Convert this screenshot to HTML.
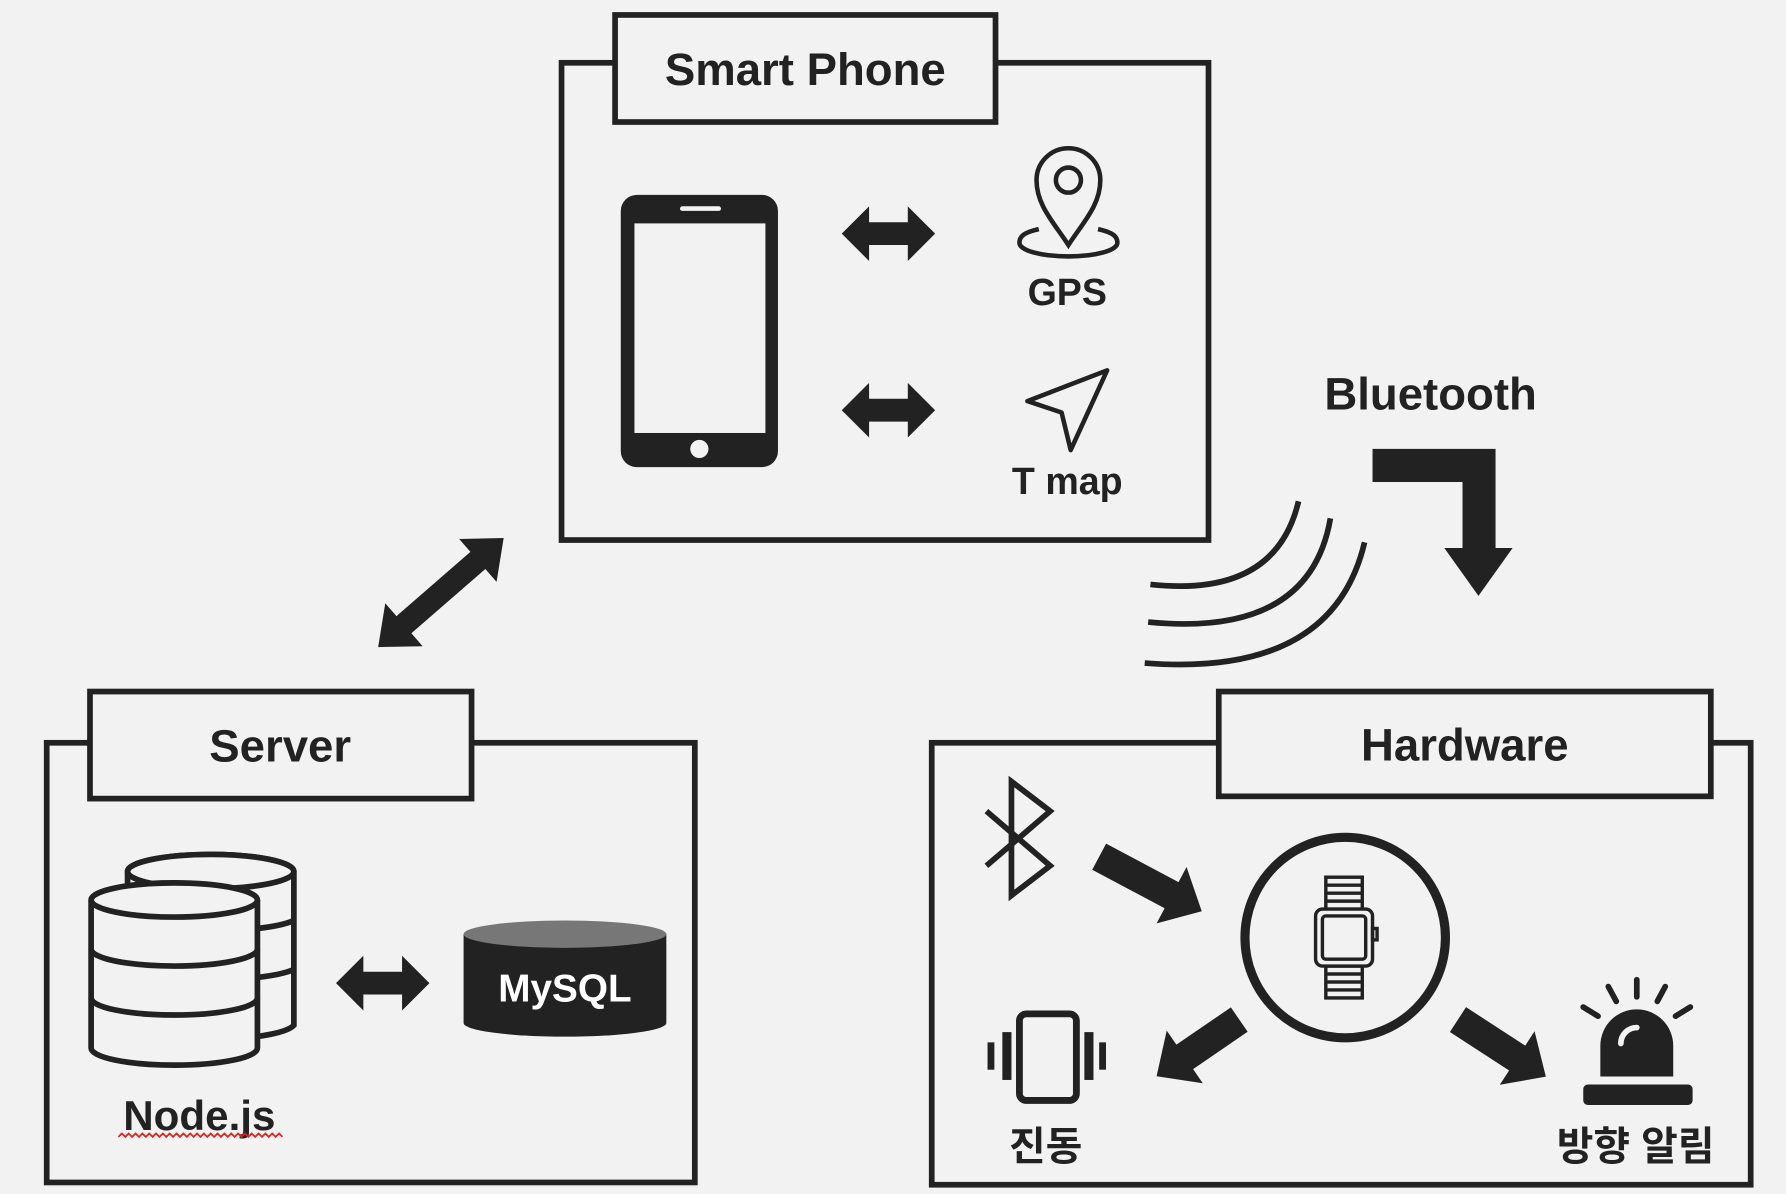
<!DOCTYPE html>
<html><head><meta charset="utf-8"><style>
html,body{margin:0;padding:0;background:#f2f2f2;}
svg{display:block}
text{font-family:"Liberation Sans","Noto Sans CJK KR",sans-serif;font-weight:bold;fill:#222;text-anchor:middle;dominant-baseline:middle}
</style></head><body>
<svg width="1786" height="1194" viewBox="0 0 1568 1048" xmlns="http://www.w3.org/2000/svg">
<rect width="1568" height="1048" fill="#f2f2f2"/>
<g fill="none" stroke="#222" stroke-width="5">
<rect x="493" y="55" width="568" height="419"/>
<rect x="41" y="652" width="569" height="386"/>
<rect x="818" y="652" width="719" height="388"/>
</g>
<g fill="#f2f2f2" stroke="#222" stroke-width="5">
<rect x="540" y="13" width="334" height="94"/>
<rect x="79" y="607" width="335" height="94"/>
<rect x="1070" y="607" width="432" height="92"/>
</g>
<text x="707" y="64" font-size="40">Smart Phone</text>
<text x="246" y="658" font-size="40">Server</text>
<text x="1286" y="657" font-size="40">Hardware</text>

<rect x="545" y="171" width="138" height="239" rx="14" fill="#222"/>
<rect x="557" y="196" width="115" height="184" fill="#f2f2f2"/>
<rect x="597" y="181" width="36" height="4" rx="2" fill="#f2f2f2"/>
<circle cx="614" cy="394" r="8" fill="#f2f2f2"/>

<g fill="#222">
<polygon transform="translate(739,205)" points="0,0 24,-24 24,-10 58,-10 58,-24 82,0 58,24 58,10 24,10 24,24"/>
<polygon transform="translate(739,360)" points="0,0 24,-24 24,-10 58,-10 58,-24 82,0 58,24 58,10 24,10 24,24"/>
<polygon transform="translate(295,863)" points="0,0 24,-24 24,-10 58,-10 58,-24 82,0 58,24 58,10 24,10 24,24"/>
<polygon transform="translate(332,568) rotate(-41)" points="0,0 30,-25 30,-10 116,-10 116,-25 146,0 116,25 116,10 30,10 30,25"/>
<polygon transform="translate(965,752) rotate(28)" points="0,-13 72,-13 72,-28 102,0 72,28 72,13 0,13"/>
<polygon transform="translate(1088,895) rotate(145.6)" points="0,-13 58,-13 58,-28 88,0 58,28 58,13 0,13"/>
<polygon transform="translate(1280,895) rotate(33)" points="0,-13 62,-13 62,-28 92,0 62,28 62,13 0,13"/>
<polygon points="1205,394 1313,394 1313,481 1328,481 1298,523 1268,481 1284,481 1284,423 1205,423"/>
</g>

<g fill="none" stroke="#222" stroke-width="4">
<path d="M938,215 C925,195 910,180 910,158 A28,28 0 0 1 966,158 C966,180 951,195 938,215 Z"/>
<circle cx="938" cy="158" r="11"/>
<path d="M912,201 C898,204 895,208 895,213 C895,220 915,225 938,225 C961,225 981,220 981,213 C981,208 978,204 964,201"/>
<polygon points="902,352 972,325 940,395 932,362" stroke-linejoin="round"/>
</g>
<text x="937" y="259" font-size="33">GPS</text>
<text x="937" y="425" font-size="33">T map</text>
<text x="1256" y="349" font-size="40">Bluetooth</text>

<g fill="none" stroke="#222" stroke-width="5">
<path d="M1010,513 Q1120,525 1140,440"/>
<path d="M1008,546 Q1150,560 1168,455"/>
<path d="M1005,582 Q1170,595 1198,476"/>
</g>

<g stroke="#222" stroke-width="5" fill="#f2f2f2">
<path d="M112,780 L112,765 A73,15 0 0 1 258,765 L258,900 A73,15 0 0 1 200,912 Z"/>
<ellipse cx="185" cy="765" rx="73" ry="15"/>
<path d="M80,790 L80,920 A73,15 0 0 0 226,920 L226,790"/>
<ellipse cx="153" cy="790" rx="73" ry="15"/>
<path d="M80,833 A73,15 0 0 0 226,833 M80,876 A73,15 0 0 0 226,876 M226,815 A73,15 0 0 0 258,808 M226,858 A73,15 0 0 0 258,851" fill="none"/>
</g>
<text x="175" y="982" font-size="37">Node.js</text>
<path d="M104,998 l3,-3 l3,3 l3,-3 l3,3 l3,-3 l3,3 l3,-3 l3,3 l3,-3 l3,3 l3,-3 l3,3 l3,-3 l3,3 l3,-3 l3,3 l3,-3 l3,3 l3,-3 l3,3 l3,-3 l3,3 l3,-3 l3,3 l3,-3 l3,3 l3,-3 l3,3 l3,-3 l3,3 l3,-3 l3,3 l3,-3 l3,3 l3,-3 l3,3 l3,-3 l3,3 l3,-3 l3,3 l3,-3 l3,3 l3,-3 l3,3 l3,-3 l3,3 l3,-3 l3,3" fill="none" stroke="#d22" stroke-width="1.5"/>

<path d="M407,820 L407,898 A89,12 0 0 0 585,898 L585,820 Z" fill="#222"/>
<ellipse cx="496" cy="820" rx="89" ry="12" fill="#777"/>
<text x="496" y="870" font-size="34" style="fill:#fff">MySQL</text>

<polyline points="866,712 922,760 888,786 888,686 922,712 866,760" fill="none" stroke="#222" stroke-width="5" stroke-linejoin="miter"/>

<circle cx="1181" cy="823" r="88" fill="none" stroke="#222" stroke-width="8"/>
<g fill="none" stroke="#222" stroke-width="3">
<rect x="1164" y="770" width="32" height="28"/>
<rect x="1164" y="848" width="32" height="28"/>
<path d="M1164,777 h32 M1164,784 h32 M1164,791 h32 M1164,855 h32 M1164,862 h32 M1164,869 h32"/>
<rect x="1155" y="798" width="50" height="50" rx="6" fill="#f2f2f2"/>
<rect x="1161" y="804" width="38" height="38" rx="3"/>
<rect x="1205" y="815" width="4" height="10"/>
</g>

<rect x="895" y="890" width="50" height="76" rx="6" fill="none" stroke="#222" stroke-width="6"/>
<g fill="#222">
<rect x="880" y="906" width="8" height="42"/><rect x="867" y="915" width="6" height="24"/>
<rect x="952" y="906" width="8" height="42"/><rect x="965" y="915" width="6" height="24"/>
</g>
<text x="918" y="1009" font-size="35">진동</text>

<g fill="#222">
<path d="M1405,945 L1405,918 A32,32 0 0 1 1469,918 L1469,945 Z"/>
<rect x="1390" y="952" width="96" height="18" rx="4"/>
</g>
<path d="M1423,916 A14,14 0 0 1 1437,902" fill="none" stroke="#f2f2f2" stroke-width="5" stroke-linecap="round"/>
<g stroke="#222" stroke-width="5" stroke-linecap="round">
<line x1="1437" y1="860" x2="1437" y2="875"/>
<line x1="1412" y1="866" x2="1419" y2="879"/>
<line x1="1462" y1="866" x2="1455" y2="879"/>
<line x1="1390" y1="884" x2="1403" y2="892"/>
<line x1="1484" y1="884" x2="1471" y2="892"/>
</g>
<text x="1436" y="1009" font-size="35">방향 알림</text>
</svg>
</body></html>
